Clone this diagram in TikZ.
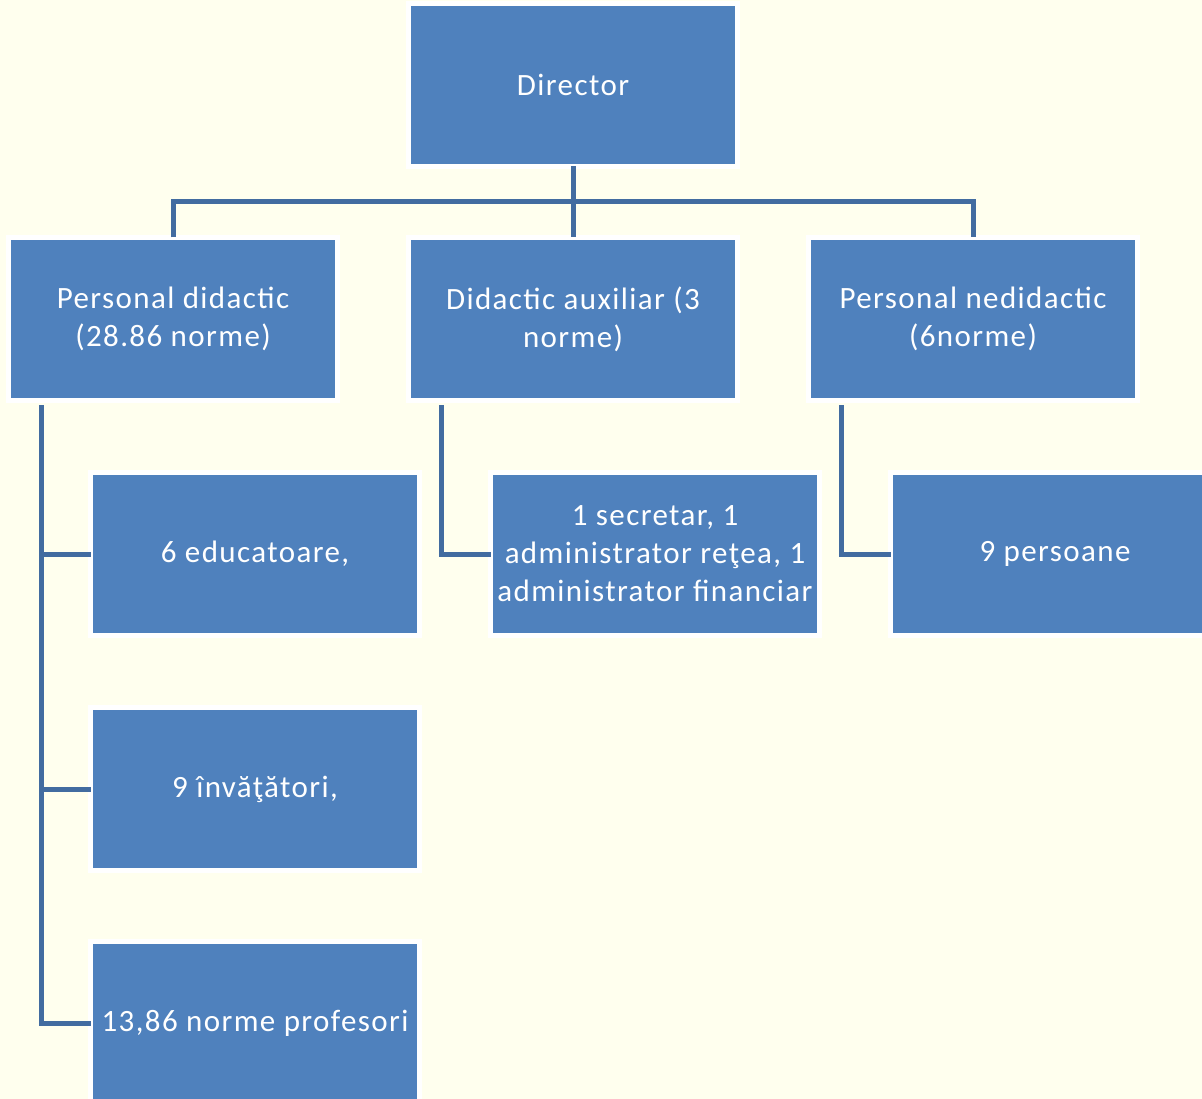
\documentclass[tikz,border=0pt]{standalone}
\usepackage{fontspec}
\setmainfont{Carlito}
\newfontfamily\boxfont[LetterSpace=4.5]{Carlito}
\definecolor{bgc}{RGB}{255,255,238}
\definecolor{boxc}{RGB}{79,129,189}
\definecolor{linec}{RGB}{66,108,160}
\tikzset{
  orgbox/.style={draw=white, line width=5pt, fill=boxc, text=white,
    minimum width=329pt, minimum height=163pt, inner sep=0pt, outer sep=0pt,
    align=center, font=\boxfont\fontsize{31}{38}\selectfont},
  conn/.style={draw=linec, line width=5pt},
}
\begin{document}
\begin{tikzpicture}[x=1pt,y=-1pt]
\useasboundingbox (0,0) rectangle (1202,1099);
\fill[bgc] (0,0) rectangle (1202,1099);
\clip (0,0) rectangle (1202,1099);
% nodes
\node[orgbox] (dir) at (573,85) {Director};
\node[orgbox] (pd) at (173,319) {Personal didactic\\(28.86 norme)};
\node[orgbox] (aux) at (573,319) {Didactic auxiliar (3\\norme)};
\node[orgbox] (nd) at (973,319) {Personal nedidactic\\(6norme)};
\node[orgbox] (edu) at (255,554) {6 educatoare,};
\node[orgbox] (adm) at (655,554) {1 secretar, 1\\administrator reţea, 1\\administrator financiar};
\node[orgbox] (pers) at (1055,554) {9 persoane};
\node[orgbox] (inv) at (255,789) {9 învăţători,};
\node[orgbox] (prof) at (255,1023) {13,86 norme profesori};
% coordinates
\coordinate (bus) at (573,202);
\coordinate (pdl) at (41,405);
\coordinate (auxl) at (441,405);
\coordinate (ndl) at (841,405);
% connectors
\draw[conn] (dir.south) -- (aux.north);
\draw[conn] (pd.north) -- (pd.north |- bus) -- (nd.north |- bus) -- (nd.north);
\draw[conn] (pdl) |- (edu.west);
\draw[conn] (pdl) |- (inv.west);
\draw[conn] (pdl) |- (prof.west);
\draw[conn] (auxl) |- (adm.west);
\draw[conn] (ndl) |- (pers.west);
\end{tikzpicture}
\end{document}
